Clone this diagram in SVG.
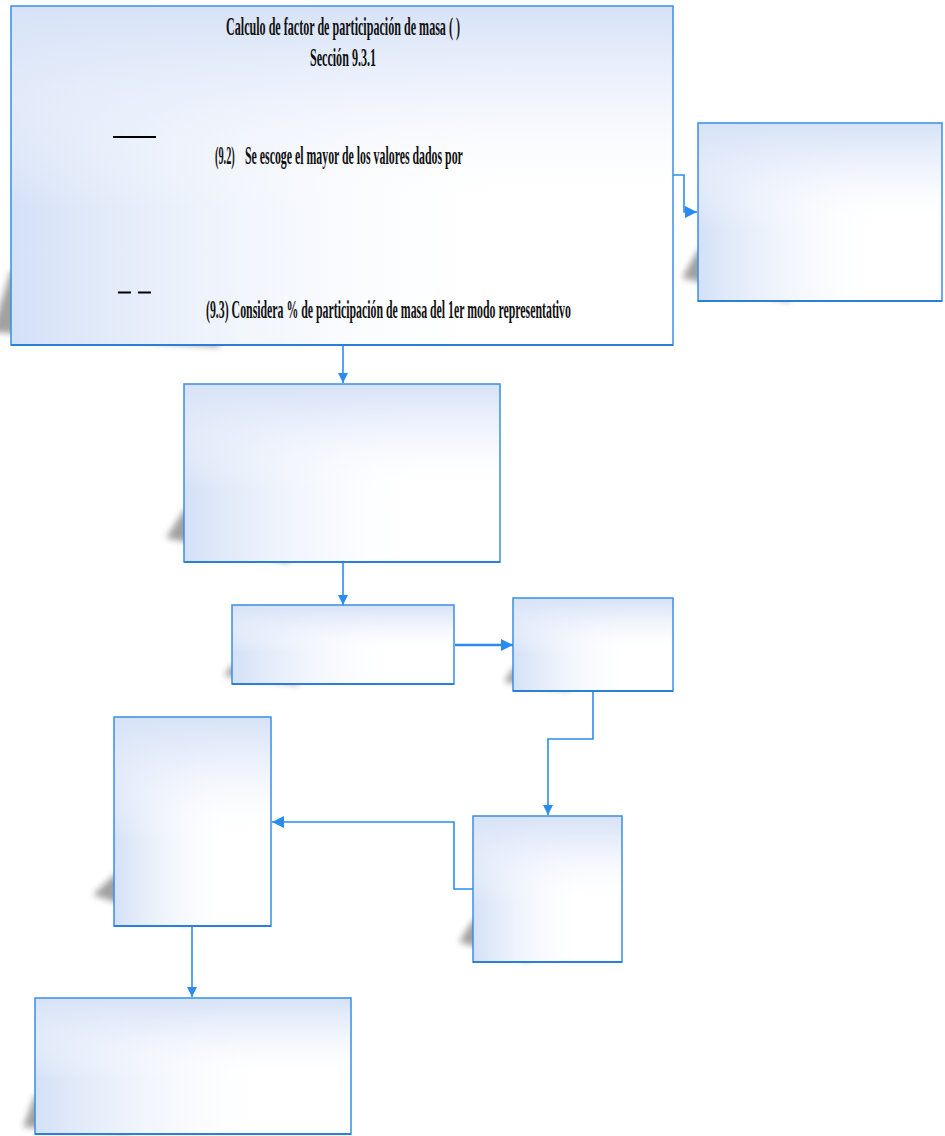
<svg xmlns="http://www.w3.org/2000/svg" width="945" height="1136" viewBox="0 0 945 1136">
  <style>
    .box-base { fill: #ffffff; }
    .box-h { fill: url(#fadeH); }
    .box-v { fill: url(#fadeV); }
    .box-line { fill: none; stroke: #3a8fe2; stroke-width: 1.5; }
    .box-foot { stroke: #2a7fd6; stroke-width: 2.2; }
    .shadow { fill: #555555; opacity: 0.55; filter: url(#soft); }
    .link { fill: none; stroke: #2b8cee; stroke-width: 1.6; }
    .link-bold { fill: none; stroke: #2b8cee; stroke-width: 2.6; }
    .t { font-family: "Liberation Serif", "Times New Roman", serif; font-weight: bold; fill: #111111; font-size: 25px; }
  </style>
  <defs>
    <linearGradient id="fadeH" x1="0" y1="0" x2="1" y2="0">
      <stop offset="0" stop-color="#d3e0f7" stop-opacity="1"/>
      <stop offset="0.12" stop-color="#dde7f8" stop-opacity="0.9"/>
      <stop offset="0.45" stop-color="#eef3fc" stop-opacity="0.5"/>
      <stop offset="0.75" stop-color="#ffffff" stop-opacity="0"/>
    </linearGradient>
    <linearGradient id="fadeV" x1="0" y1="0" x2="0" y2="1">
      <stop offset="0" stop-color="#d6e2f7" stop-opacity="1"/>
      <stop offset="0.25" stop-color="#e8eefb" stop-opacity="0.7"/>
      <stop offset="0.6" stop-color="#ffffff" stop-opacity="0"/>
    </linearGradient>
    <filter id="soft" x="-50%" y="-50%" width="200%" height="200%">
      <feGaussianBlur stdDeviation="3"/>
    </filter>
    <marker id="tip" viewBox="0 0 10 10" refX="10" refY="5" markerWidth="10" markerHeight="10" markerUnits="userSpaceOnUse" orient="auto">
      <path d="M0,0 L10,5 L0,10 Z" fill="#2b8cee"/>
    </marker>
    <marker id="tipBig" viewBox="0 0 10 10" refX="10" refY="5" markerWidth="12" markerHeight="12" markerUnits="userSpaceOnUse" orient="auto">
      <path d="M0,0 L10,5 L0,10 Z" fill="#2b8cee"/>
    </marker>
  </defs>

  <!-- connectors -->
  <g id="connectors">
    <polyline class="link" points="673,175 684,175 684,212 697,212" marker-end="url(#tipBig)"/>
    <line class="link" x1="343" y1="345" x2="343" y2="383" marker-end="url(#tip)"/>
    <line class="link" x1="343" y1="563" x2="343" y2="605" marker-end="url(#tip)"/>
    <line class="link-bold" x1="455" y1="645" x2="513" y2="645" marker-end="url(#tipBig)"/>
    <polyline class="link" points="593,692 593,739 548,739 548,815" marker-end="url(#tip)"/>
    <polyline class="link" points="473,889 454,889 454,822 272,822" marker-end="url(#tipBig)"/>
    <line class="link" x1="192" y1="927" x2="192" y2="997" marker-end="url(#tip)"/>
  </g>

  <!-- box 1: mass participation factor (condensed bold serif text) -->
  <g id="node-factor">
    <polygon class="shadow" points="11,270 200,270 220,347 -8,332"/>
    <rect class="box-base" x="11" y="6" width="662" height="339"/>
    <rect class="box-h" x="11" y="6" width="662" height="339"/>
    <rect class="box-v" x="11" y="6" width="662" height="339"/>
    <rect class="box-line" x="11" y="6" width="662" height="339"/>
    <line class="box-foot" x1="11" y1="345" x2="673" y2="345"/>
    <text class="t" transform="translate(343,35) scale(0.45,1)" text-anchor="middle" textLength="520" lengthAdjust="spacingAndGlyphs">Calculo de factor de participación de masa ( )</text>
    <text class="t" transform="translate(343,66) scale(0.45,1)" text-anchor="middle" textLength="147" lengthAdjust="spacingAndGlyphs">Sección 9.3.1</text>
    <line x1="113" y1="137" x2="156" y2="137" stroke="#000" stroke-width="2"/>
    <text class="t" transform="translate(215,164) scale(0.45,1)" textLength="44" lengthAdjust="spacingAndGlyphs">(9.2)</text>
    <text class="t" transform="translate(245,164) scale(0.45,1)" textLength="484" lengthAdjust="spacingAndGlyphs">Se escoge el mayor de los valores dados por</text>
    <line x1="118" y1="292.5" x2="131" y2="292.5" stroke="#000" stroke-width="2"/>
    <line x1="138" y1="292.5" x2="151" y2="292.5" stroke="#000" stroke-width="2"/>
    <text class="t" transform="translate(206,318) scale(0.45,1)" textLength="811" lengthAdjust="spacingAndGlyphs">(9.3) Considera % de participación de masa del 1er modo representativo</text>
  </g>

  <!-- box 2 -->
  <g id="node-right">
    <polygon class="shadow" points="698,250 780,250 790,302 682,278"/>
    <rect class="box-base" x="698" y="123" width="244" height="178"/>
    <rect class="box-h" x="698" y="123" width="244" height="178"/>
    <rect class="box-v" x="698" y="123" width="244" height="178"/>
    <rect class="box-line" x="698" y="123" width="244" height="178"/>
    <line class="box-foot" x1="698" y1="301" x2="942" y2="301"/>
  </g>

  <!-- box 3 -->
  <g id="node-mid">
    <polygon class="shadow" points="184,510 280,510 290,563 166,538"/>
    <rect class="box-base" x="184" y="384" width="316" height="178"/>
    <rect class="box-h" x="184" y="384" width="316" height="178"/>
    <rect class="box-v" x="184" y="384" width="316" height="178"/>
    <rect class="box-line" x="184" y="384" width="316" height="178"/>
    <line class="box-foot" x1="184" y1="562" x2="500" y2="562"/>
  </g>

  <!-- box 4 -->
  <g id="node-wide">
    <polygon class="shadow" points="232,665 290,665 300,685 224,676"/>
    <rect class="box-base" x="232" y="605" width="222" height="79"/>
    <rect class="box-h" x="232" y="605" width="222" height="79"/>
    <rect class="box-v" x="232" y="605" width="222" height="79"/>
    <rect class="box-line" x="232" y="605" width="222" height="79"/>
    <line class="box-foot" x1="232" y1="684" x2="454" y2="684"/>
  </g>

  <!-- box 5 -->
  <g id="node-small">
    <polygon class="shadow" points="513,668 560,668 570,691 504,682"/>
    <rect class="box-base" x="513" y="598" width="160" height="93"/>
    <rect class="box-h" x="513" y="598" width="160" height="93"/>
    <rect class="box-v" x="513" y="598" width="160" height="93"/>
    <rect class="box-line" x="513" y="598" width="160" height="93"/>
    <line class="box-foot" x1="513" y1="691" x2="673" y2="691"/>
  </g>

  <!-- box 6 -->
  <g id="node-tall">
    <polygon class="shadow" points="114,875 180,875 190,926 93,895"/>
    <rect class="box-base" x="114" y="717" width="157" height="209"/>
    <rect class="box-h" x="114" y="717" width="157" height="209"/>
    <rect class="box-v" x="114" y="717" width="157" height="209"/>
    <rect class="box-line" x="114" y="717" width="157" height="209"/>
    <line class="box-foot" x1="114" y1="926" x2="271" y2="926"/>
  </g>

  <!-- box 7 -->
  <g id="node-square">
    <polygon class="shadow" points="473,920 520,920 530,962 459,942"/>
    <rect class="box-base" x="473" y="816" width="149" height="146"/>
    <rect class="box-h" x="473" y="816" width="149" height="146"/>
    <rect class="box-v" x="473" y="816" width="149" height="146"/>
    <rect class="box-line" x="473" y="816" width="149" height="146"/>
    <line class="box-foot" x1="473" y1="962" x2="622" y2="962"/>
  </g>

  <!-- box 8 -->
  <g id="node-bottom">
    <polygon class="shadow" points="35,1095 120,1095 130,1134 23,1127"/>
    <rect class="box-base" x="35" y="998" width="316" height="136"/>
    <rect class="box-h" x="35" y="998" width="316" height="136"/>
    <rect class="box-v" x="35" y="998" width="316" height="136"/>
    <rect class="box-line" x="35" y="998" width="316" height="136"/>
    <line class="box-foot" x1="35" y1="1134" x2="351" y2="1134"/>
  </g>
</svg>
